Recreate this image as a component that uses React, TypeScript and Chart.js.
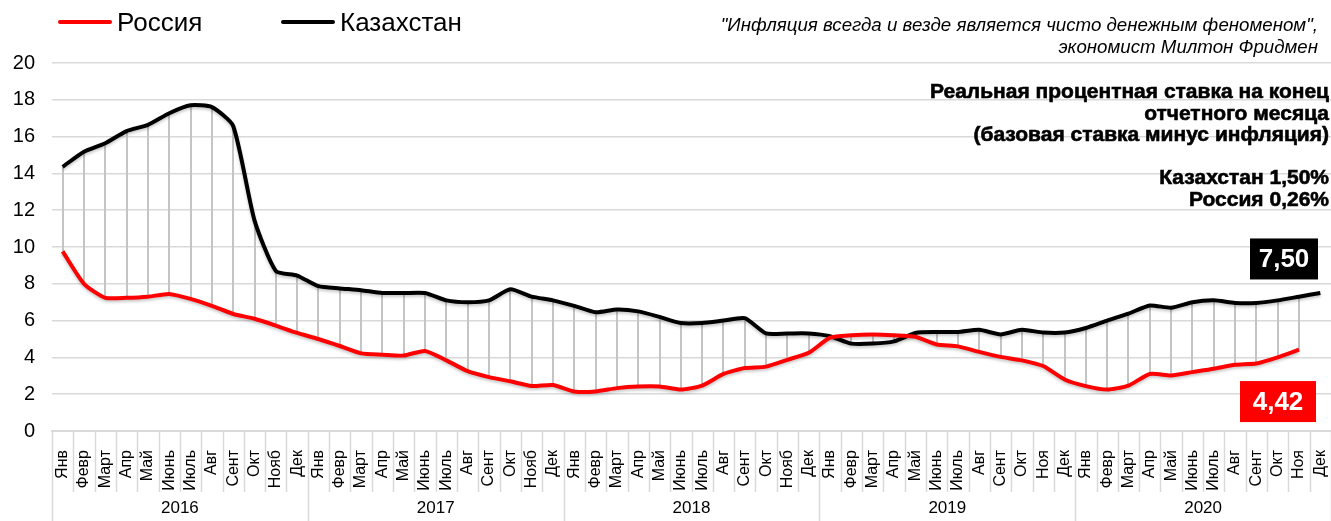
import React, { useEffect, useRef } from 'react';
import { Chart, registerables } from 'chart.js';

Chart.register(...registerables);

const FONT = '"Liberation Sans", Arial, sans-serif';

const years = ['2016', '2017', '2018', '2019', '2020'];
const monthsA = ['Янв', 'Февр', 'Март', 'Апр', 'Май', 'Июнь', 'Июль', 'Авг', 'Сент', 'Окт', 'Нояб', 'Дек'];
const monthsB = ['Янв', 'Февр', 'Март', 'Апр', 'Май', 'Июнь', 'Июль', 'Авг', 'Сент', 'Окт', 'Ноя', 'Дек'];
const monthLabels = [...monthsA, ...monthsA, ...monthsA, ...monthsB, ...monthsB];

const russia: (number | null)[] = [
  9.76, 8.0, 7.24, 7.24, 7.3, 7.45, 7.18, 6.8, 6.36, 6.1, 5.73, 5.33,
  5.0, 4.62, 4.22, 4.15, 4.1, 4.35, 3.84, 3.25, 2.93, 2.7, 2.45, 2.5,
  2.15, 2.15, 2.33, 2.42, 2.42, 2.25, 2.47, 3.1, 3.42, 3.5, 3.87, 4.25,
  5.07, 5.2, 5.24, 5.2, 5.12, 4.7, 4.6, 4.3, 4.03, 3.84, 3.53, 2.8,
  2.44, 2.25, 2.47, 3.1, 3.02, 3.2, 3.38, 3.6, 3.67, 4.0, 4.42, null,
];

const kazakhstan: (number | null)[] = [
  14.36, 15.18, 15.64, 16.3, 16.64, 17.27, 17.7, 17.6, 16.58, 11.45, 8.7, 8.45,
  7.87, 7.75, 7.65, 7.5, 7.5, 7.5, 7.1, 7.0, 7.1, 7.7, 7.3, 7.1,
  6.8, 6.45, 6.6, 6.5, 6.2, 5.87, 5.87, 6.0, 6.13, 5.3, 5.3, 5.3,
  5.15, 4.75, 4.75, 4.87, 5.33, 5.38, 5.38, 5.5, 5.25, 5.5, 5.35, 5.35,
  5.6, 6.0, 6.38, 6.82, 6.7, 7.0, 7.1, 6.96, 6.96, 7.1, 7.3, 7.5,
];

const seriesNames = ['Россия', 'Казахстан'];
const quoteLines = [
  '"Инфляция всегда и везде является чисто денежным феноменом",',
  'экономист Милтон Фридмен',
];
const titleLines = [
  'Реальная процентная ставка на конец',
  'отчетного месяца',
  '(базовая ставка минус инфляция)',
];
const realRateLines = ['Казахстан 1,50%', 'Россия 0,26%'];

const fmt = (v: number | null) => (v == null ? '' : v.toFixed(2).replace('.', ','));
const lastValue = (arr: (number | null)[]) => {
  for (let i = arr.length - 1; i >= 0; i--) if (arr[i] != null) return arr[i];
  return null;
};

const dropLinesPlugin = {
  id: 'dropLines',
  beforeDatasetsDraw(chart: any) {
    const { ctx, scales } = chart;
    const x = scales.x;
    const y = scales.y;
    ctx.save();
    ctx.strokeStyle = '#c4c4c4';
    ctx.lineWidth = 2;
    for (let i = 0; i < monthLabels.length; i++) {
      const a = russia[i];
      const b = kazakhstan[i];
      if (a == null || b == null) continue;
      const px = Math.round(x.getPixelForValue(i));
      ctx.beginPath();
      ctx.moveTo(px, y.getPixelForValue(a));
      ctx.lineTo(px, y.getPixelForValue(b));
      ctx.stroke();
    }
    ctx.restore();
  },
};

const shadowPlugin = {
  id: 'lineShadow',
  beforeDatasetDraw(chart: any) {
    const ctx = chart.ctx;
    ctx.save();
    ctx.shadowColor = 'rgba(0,0,0,0.22)';
    ctx.shadowBlur = 3;
    ctx.shadowOffsetY = 2;
  },
  afterDatasetDraw(chart: any) {
    chart.ctx.restore();
  },
};

const axisPlugin = {
  id: 'twoLevelAxis',
  afterDraw(chart: any) {
    const { ctx, chartArea, scales } = chart;
    const x = scales.x;
    const n = monthLabels.length;
    const w = (chartArea.right - chartArea.left) / n;
    const top = chartArea.bottom;
    const bottom = chart.height;
    ctx.save();
    ctx.strokeStyle = '#d9d9d9';
    ctx.lineWidth = 1.5;
    for (let i = 0; i <= n; i++) {
      const px = Math.round(chartArea.left + i * w) + 0.5;
      const isYear = i % 12 === 0;
      ctx.beginPath();
      ctx.moveTo(px, top);
      ctx.lineTo(px, isYear ? bottom : top + 61);
      ctx.stroke();
    }
    ctx.fillStyle = '#000';
    ctx.font = `17px ${FONT}`;
    ctx.textAlign = 'center';
    ctx.textBaseline = 'middle';
    years.forEach((yr, k) => {
      const cx = (x.getPixelForValue(k * 12) + x.getPixelForValue(k * 12 + 11)) / 2;
      ctx.fillText(yr, cx, 508);
    });
    ctx.restore();
  },
};

const badgePlugin = {
  id: 'badges',
  afterDatasetsDraw(chart: any) {
    const { ctx, chartArea, scales } = chart;
    const y = scales.y;
    const drawBadge = (text: string, color: string, right: number, width: number, cy: number) => {
      const h = 41;
      ctx.save();
      ctx.fillStyle = color;
      ctx.fillRect(right - width, cy - h / 2, width, h);
      ctx.fillStyle = '#fff';
      ctx.font = `bold 26px ${FONT}`;
      ctx.textAlign = 'center';
      ctx.textBaseline = 'middle';
      ctx.fillText(text, right - width / 2, cy + 1);
      ctx.restore();
    };
    drawBadge(fmt(lastValue(kazakhstan)), '#000000', chartArea.right - 13, 68, y.getPixelForValue(9.35));
    drawBadge(fmt(lastValue(russia)), '#ff0000', chartArea.right - 15, 76, y.getPixelForValue(1.6));
  },
};

export default function App() {
  const canvasRef = useRef<HTMLCanvasElement | null>(null);

  useEffect(() => {
    if (!canvasRef.current) return;
    const chart = new Chart(canvasRef.current, {
      type: 'line',
      data: {
        labels: monthLabels,
        datasets: [
          {
            label: seriesNames[0],
            data: russia,
            borderColor: '#ff0000',
            borderWidth: 4,
            pointRadius: 0,
            tension: 0.2,
            fill: false,
          },
          {
            label: seriesNames[1],
            data: kazakhstan,
            borderColor: '#000000',
            borderWidth: 4,
            pointRadius: 0,
            tension: 0.2,
            fill: false,
          },
        ],
      },
      options: {
        animation: false,
        responsive: false,
        maintainAspectRatio: false,
        layout: { padding: { top: 63, right: 0, bottom: 0, left: 0 } },
        plugins: {
          legend: { display: false },
          tooltip: { enabled: false },
          title: { display: false },
        },
        scales: {
          x: {
            type: 'category',
            offset: true,
            grid: { display: false },
            border: { display: true, color: '#d9d9d9', width: 2 },
            ticks: {
              autoSkip: false,
              minRotation: 90,
              maxRotation: 90,
              padding: 11,
              color: '#000',
              font: { family: FONT, size: 16 },
            },
            afterFit: (s: any) => {
              s.height = 90;
              s.paddingLeft = 0;
              s.paddingRight = 0;
            },
          },
          y: {
            min: 0,
            max: 20,
            ticks: {
              stepSize: 2,
              padding: 17,
              color: '#000',
              font: { family: FONT, size: 20 },
            },
            grid: { color: '#d9d9d9', lineWidth: 1.5, drawTicks: false },
            border: { display: false },
            afterFit: (s: any) => {
              s.width = 52;
            },
          },
        },
      },
      plugins: [dropLinesPlugin, shadowPlugin, axisPlugin, badgePlugin],
    } as any);
    return () => chart.destroy();
  }, []);

  const textStyle: React.CSSProperties = {
    position: 'absolute',
    textAlign: 'right',
    fontFamily: FONT,
    color: '#000',
    whiteSpace: 'nowrap',
  };

  const boldStyle: React.CSSProperties = {
    ...textStyle,
    right: 2,
    fontSize: 21,
    lineHeight: '21.5px',
    fontWeight: 'bold',
    WebkitTextStroke: '0.6px #000',
  } as React.CSSProperties;

  return (
    <div style={{ position: 'fixed', left: 0, top: 0, width: 1331, height: 521, background: '#fff', overflow: 'hidden' }}>
      <canvas ref={canvasRef} width={1331} height={521} style={{ position: 'absolute', left: 0, top: 0, width: 1331, height: 521 }} />
      {/* legend */}
      <div style={{ position: 'absolute', left: 58, top: 20, width: 54, height: 4, background: '#ff0000', borderRadius: 2 }} />
      <div style={{ position: 'absolute', left: 117, top: 6, fontFamily: FONT, fontSize: 26, lineHeight: '32px', color: '#000' }}>{seriesNames[0]}</div>
      <div style={{ position: 'absolute', left: 281, top: 20, width: 54, height: 4, background: '#000', borderRadius: 2 }} />
      <div style={{ position: 'absolute', left: 340, top: 6, fontFamily: FONT, fontSize: 26, lineHeight: '32px', color: '#000' }}>{seriesNames[1]}</div>
      {/* quote */}
      <div style={{ ...textStyle, right: 13, top: 14, fontSize: 18.7, lineHeight: '22px', fontStyle: 'italic' }}>
        {quoteLines.map((l) => (
          <div key={l}>{l}</div>
        ))}
      </div>
      {/* title */}
      <div style={{ ...boldStyle, top: 80 }}>
        {titleLines.map((l) => (
          <div key={l}>{l}</div>
        ))}
      </div>
      <div style={{ ...boldStyle, top: 166 }}>
        {realRateLines.map((l) => (
          <div key={l}>{l}</div>
        ))}
      </div>
    </div>
  );
}
